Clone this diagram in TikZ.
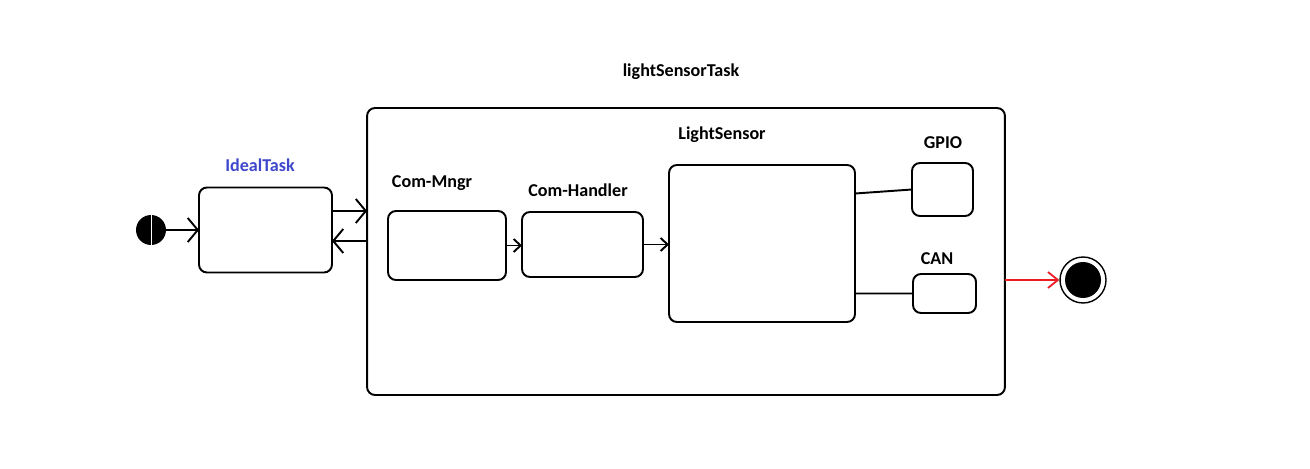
\documentclass[tikz,border=0pt]{standalone}
\usepackage{fontspec}
\setmainfont{Carlito}
\usepackage{tikz}
\usetikzlibrary{arrows.meta,
                positioning}
\definecolor{PaintBlue}{RGB}{63,72,204}
\definecolor{PaintRed}{RGB}{237,28,36}

\begin{document}
\begin{tikzpicture}[x=0.02cm, y=-0.02cm,
    ST/.style = {draw, line width=1.1pt, rounded corners=4.5pt,
                 inner sep=0pt, outer sep=0pt},
    LBL/.style = {font=\fontsize{10.3}{12}\selectfont\bfseries, inner sep=0pt},
    BA/.style = {line width=1.1pt, -{Straight Barb[length=2mm, width=4.8mm]}},%big arrow
    SA/.style = {line width=1.1pt, -{Straight Barb[length=1.4mm, width=2.6mm]}},%small arrow
    RA/.style = {PaintRed, line width=1pt, -{Straight Barb[length=2mm, width=3.2mm]}}%red arrow
                        ]
\useasboundingbox (0,0) rectangle (1310,469);
% start and end
\node (init) [circle, fill=black, minimum size=0.6cm, inner sep=0pt,
              path picture={\draw[white, line width=0.5pt]
                (path picture bounding box.north) -- (path picture bounding box.south);}]
              at (151,230) {};
\node (final) [circle, draw, line width=0.8pt, minimum size=0.92cm, inner sep=0pt,
               path picture={\fill (path picture bounding box.center) circle (0.36cm);}]
              at (1083,280) {};
% states
\node (ideal)   [ST, minimum width=2.66cm, minimum height=1.70cm] at (265.5,230) {};
\node (main)    [ST, minimum width=12.76cm, minimum height=5.74cm] at (686,251.5) {};
\node (mngr)    [ST, minimum width=2.36cm, minimum height=1.38cm] at (447,245.5) {};
\node (handler) [ST, minimum width=2.42cm, minimum height=1.30cm] at (582.5,244.5) {};
\node (light)   [ST, minimum width=3.72cm, minimum height=3.14cm] at (762,243.5) {};
\node (gpio)    [ST, minimum width=1.22cm, minimum height=1.06cm] at (942.5,189.5) {};
\node (can)     [ST, minimum width=1.26cm, minimum height=0.78cm] at (944.5,293.5) {};
% labels
\node (ttl)  [LBL] at (681,72)  {lightSensorTask};
\node (lidl) [LBL, text=PaintBlue] at (260,165) {IdealTask};
\node (lmgr) [LBL] at (432,183) {Com-Mngr};
\node (lhdl) [LBL] at (578,190) {Com-Handler};
\node (llgt) [LBL] at (722,135) {LightSensor};
\node (lgp)  [LBL] at (943,143) {GPIO};
\node (lcan) [LBL] at (937,259) {CAN};
% connectors
\draw[BA] (init) -- (ideal.west);
\draw[BA] ([yshift=0.38cm]ideal.east) -- ([yshift=0.38cm]ideal.east -| main.west);
\draw[BA] ([yshift=-0.22cm]ideal.east -| main.west) -- ([yshift=-0.22cm]ideal.east);
\draw[SA] (mngr.east) -- (mngr.east -| handler.west);
\draw[SA] (handler.east) -- (handler.east -| light.west);
\draw[line width=1.1pt] ([yshift=1cm]light.east) -- (gpio.west);
\draw[line width=1.1pt] ([yshift=-1cm]light.east) -- (can.west);
\draw[RA] (main.east |- final) -- (final.west);
\end{tikzpicture}
\end{document}
